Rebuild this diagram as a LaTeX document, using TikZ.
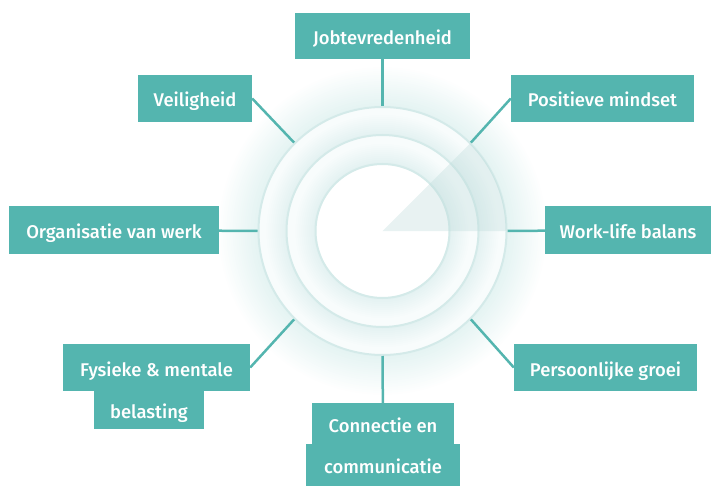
\documentclass[tikz,border=0pt]{standalone}
\usepackage{fontspec}
\setmainfont{Fira Sans}[UprightFont={* Medium}]
\usetikzlibrary{positioning,calc}
\definecolor{boxteal}{RGB}{84,181,175}
\definecolor{ringline}{RGB}{212,234,233}
\definecolor{wedgecol}{RGB}{190,220,219}
\definecolor{discfill}{RGB}{248,252,252}

\begin{document}
\begin{tikzpicture}[x=1pt, y=-1pt, every node/.style={scale=1.0},
  box/.style={fill=boxteal, text=white, inner sep=0pt, minimum height=47pt,
    text height=17pt, text depth=0pt, font=\fontsize{18.4}{21}\selectfont},
  link/.style={draw=boxteal, line width=2.5pt},
  ring/.style={draw=ringline, line width=2pt}]
   \useasboundingbox (0,0) rectangle (711,486);
   \coordinate (ctr) at (382.5,231);

   % soft glow and discs
   \foreach \R/\G/\op in {124/40/0.007, 96/20/0.011, 67/20/0.011} {
     \foreach \d in {2,4,...,\G} {
       \pgfmathsetmacro\rr{\R+\d}
       \fill[boxteal, opacity=\op] (ctr) circle (\rr pt);
     }
     \fill[discfill] (ctr) circle (\R pt);
   }
   \fill[white] (ctr) circle (66pt);
   \draw[ring] (ctr) circle (124pt);
   \draw[ring] (ctr) circle (96pt);
   \draw[ring] (ctr) circle (67pt);

   % wedge
   \fill[wedgecol, opacity=0.35] (ctr) -- ($(ctr)+(0:124pt)$)
     arc[start angle=0, end angle=45, radius=124pt] -- cycle;

   % ends on the outer ring
   \coordinate (pN)  at ($(ctr)+(90:125pt)$);
   \coordinate (pNE) at ($(ctr)+(45:125pt)$);
   \coordinate (pE)  at ($(ctr)+(0:125pt)$);
   \coordinate (pSE) at ($(ctr)+(-45:125pt)$);
   \coordinate (pS)  at ($(ctr)+(-90:125pt)$);
   \coordinate (pSW) at ($(ctr)+(-135:125pt)$);
   \coordinate (pW)  at ($(ctr)+(180:125pt)$);
   \coordinate (pNW) at ($(ctr)+(135:125pt)$);

   \node[box, minimum width=175pt, minimum height=46pt] (job) at (382.5,36) {Jobtevredenheid};
   \node[box, minimum width=114pt] (veil) at (195,98.5) {Veiligheid};
   \node[box, minimum width=183pt] (mind) at (602.5,98.5) {Positieve mindset};
   \node[box, minimum width=210pt] (org) at (114,230) {Organisatie van werk};
   \node[box, minimum width=166pt] (wlb) at (628,230) {Work-life balans};
   \node[box, minimum width=183pt] (groei) at (605.5,367.5) {Persoonlijke groei};
   \node[box, minimum width=187pt] (fys) at (156.5,367.5) {Fysieke \& mentale};
   \node[box, minimum width=110pt, minimum height=38pt] (fysb) at (149,410) {belasting};
   \node[box, minimum width=142pt, minimum height=41pt] (con) at (383,423.5) {Connectie en};
   \node[box, minimum width=154pt, minimum height=42pt] (conb) at (383,465) {communicatie};

   \draw[link] (job) -- (pN);
   \draw[link] (veil.east) -- (pNW);
   \draw[link] (mind.west) -- (pNE);
   \draw[link] (org) -- (pW);
   \draw[link] (wlb) -- (pE);
   \draw[link] (groei.west) -- (pSE);
   \draw[link] (fys.east) -- (pSW);
   \draw[link] (con) -- (pS);

\end{tikzpicture}
\end{document}
